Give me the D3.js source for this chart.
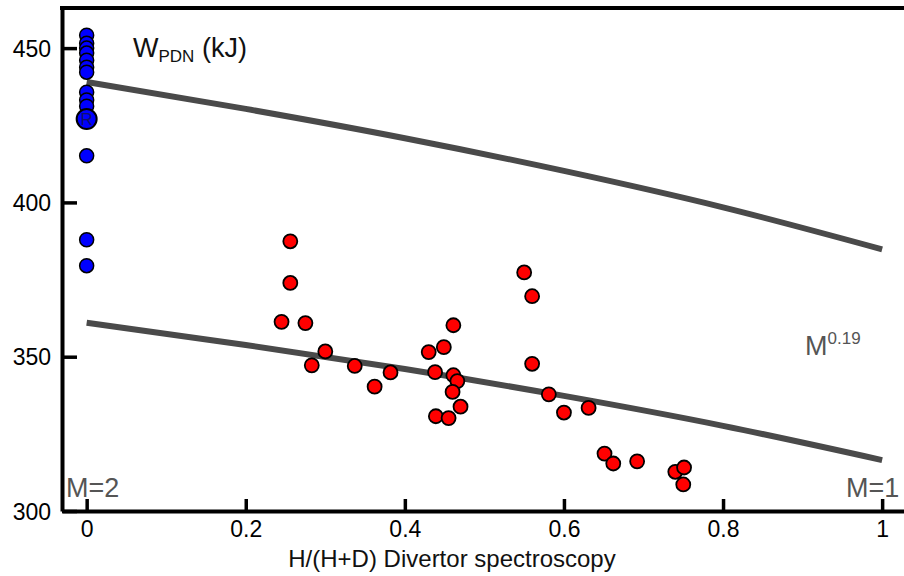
<!DOCTYPE html>
<html>
<head>
<meta charset="utf-8">
<script src="https://cdn.jsdelivr.net/npm/d3@7"></script>
<style>
  body { margin: 0; background: #fff; }
  text { font-family: "Liberation Sans", Arial, sans-serif; }
</style>
</head>
<body>
<div id="chart"></div>
<script>
// Data
const blueY = [454.2, 451.6, 450.0, 448.4, 446.1, 443.8, 442.2, 435.7, 433.2, 431.2, 415.1, 387.9, 379.5];
const refPoint = {x: 0, y: 427.0, label: "R"};

const redX = [0.256, 0.256, 0.245, 0.275, 0.300, 0.283, 0.337, 0.382, 0.362, 0.461,
              0.430, 0.449, 0.438, 0.461, 0.466, 0.460, 0.470, 0.439, 0.455, 0.550,
              0.560, 0.560, 0.581, 0.600, 0.631, 0.651, 0.662, 0.692, 0.740, 0.751, 0.750];
const redY = [387.4, 373.9, 361.3, 360.9, 351.7, 347.2, 347.0, 344.9, 340.3, 360.2,
              351.5, 353.1, 345.0, 344.0, 342.1, 338.6, 333.8, 330.7, 330.1, 377.3,
              369.6, 347.7, 337.8, 331.9, 333.4, 318.6, 315.4, 316.1, 312.7, 314.1, 308.6];

// Mass scaling curves, read at the x ticks
const fitX = [0, 0.2, 0.4, 0.6, 0.8, 1];
const fitUpper = [439.0, 430.3, 420.8, 410.2, 398.4, 384.8];
const fitLower = [361.0, 353.8, 346.0, 337.3, 327.6, 316.5];

const xTicks = [0, 0.2, 0.4, 0.6, 0.8, 1];
const yTicks = [300, 350, 400, 450];

const width = 904, height = 576;

const svg = d3.select("#chart")
    .append("svg")
    .attr("width", width)
    .attr("height", height);

// Scales
const x = d3.scaleLinear()
    .domain([-0.031, 1.03])
    .range([62, 906]);

const y = d3.scaleLinear()
    .domain([300, 463])
    .range([511, 8]);

// X axis (ticks point inwards)
const xAxis = svg.append("g")
    .attr("transform", `translate(0,${y(300)})`)
    .call(d3.axisBottom(x)
        .tickValues(xTicks)
        .tickSizeInner(-12)
        .tickSizeOuter(0)
        .tickPadding(10)
        .tickFormat(d3.format("~g")));

// Y axis
const yAxis = svg.append("g")
    .attr("transform", `translate(${x(-0.031)},0)`)
    .call(d3.axisLeft(y)
        .tickValues(yTicks)
        .tickSizeInner(-15)
        .tickSizeOuter(0)
        .tickPadding(11));

[xAxis, yAxis].forEach(g => {
    g.select(".domain").attr("stroke", "#000").attr("stroke-width", 4);
    g.selectAll(".tick line").attr("stroke", "#000").attr("stroke-width", 3.5);
    g.selectAll(".tick text")
        .attr("fill", "#000")
        .style("font-size", "23px")
        .style("font-family", "'Liberation Sans', Arial, sans-serif");
});
yAxis.selectAll(".tick text").attr("dy", "0.36em");

// Top frame line
svg.append("line")
    .attr("x1", x(-0.031) - 2).attr("x2", width)
    .attr("y1", y(463)).attr("y2", y(463))
    .attr("stroke", "#000")
    .attr("stroke-width", 4);

// Fit curves
const line = d3.line()
    .x((d, i) => x(fitX[i]))
    .y(d => y(d))
    .curve(d3.curveMonotoneX);

[fitUpper, fitLower].forEach(s => {
    svg.append("path")
        .datum(s)
        .attr("fill", "none")
        .attr("stroke", "#4a4a4a")
        .attr("stroke-width", 6)
        .attr("d", line);
});

// Blue points (M=2)
svg.append("g")
    .selectAll("circle")
    .data(blueY)
    .join("circle")
    .attr("cx", x(0))
    .attr("cy", d => y(d))
    .attr("r", 7)
    .attr("fill", "#0000ff")
    .attr("stroke", "#000")
    .attr("stroke-width", 1.5);

svg.append("circle")
    .attr("cx", x(refPoint.x))
    .attr("cy", y(refPoint.y))
    .attr("r", 10)
    .attr("fill", "#0000ff")
    .attr("stroke", "#000")
    .attr("stroke-width", 2);

svg.append("text")
    .attr("x", x(refPoint.x))
    .attr("y", y(refPoint.y) + 6)
    .attr("text-anchor", "middle")
    .attr("fill", "#10106a")
    .style("font-size", "17px")
    .text(refPoint.label);

// Red points
svg.append("g")
    .selectAll("circle")
    .data(redX)
    .join("circle")
    .attr("cx", d => x(d))
    .attr("cy", (d, i) => y(redY[i]))
    .attr("r", 7)
    .attr("fill", "#ff0000")
    .attr("stroke", "#000")
    .attr("stroke-width", 1.8);

// Labels
const wLabel = svg.append("text")
    .attr("x", 133).attr("y", 57)
    .attr("fill", "#111")
    .style("font-size", "27px");
wLabel.append("tspan").text("W");
wLabel.append("tspan").attr("dy", 5).style("font-size", "17px").text("PDN");
wLabel.append("tspan").attr("dy", -5).text(" (kJ)");

const mLabel = svg.append("text")
    .attr("x", 805).attr("y", 355)
    .attr("fill", "#555")
    .style("font-size", "27px");
mLabel.append("tspan").text("M");
mLabel.append("tspan").attr("dy", -11).style("font-size", "17px").text("0.19");

svg.append("text")
    .attr("x", 66).attr("y", 497)
    .attr("fill", "#555")
    .style("font-size", "27px")
    .text("M=2");

svg.append("text")
    .attr("x", 846).attr("y", 497)
    .attr("fill", "#555")
    .style("font-size", "27px")
    .text("M=1");

// Axis title
svg.append("text")
    .attr("x", 452).attr("y", 567)
    .attr("text-anchor", "middle")
    .attr("fill", "#111")
    .style("font-size", "24px")
    .text("H/(H+D) Divertor spectroscopy");
</script>
</body>
</html>
